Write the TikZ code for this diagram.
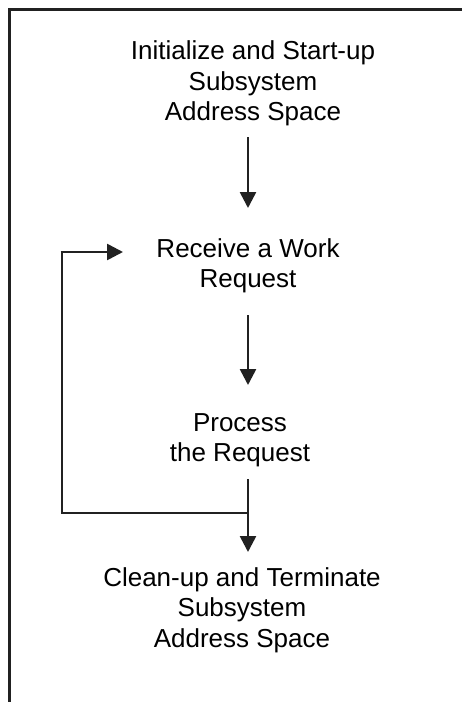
\documentclass[tikz,border=0pt]{standalone}
\usepackage{fontspec}
\setmainfont{Liberation Sans}
\usetikzlibrary{arrows.meta}
\definecolor{ink}{rgb}{0.13,0.13,0.13}
\begin{document}
\begin{tikzpicture}[x=1pt,y=-1pt,
  step text/.style={align=center,inner sep=0pt,anchor=north,text=black,
    font=\fontsize{26}{30.5}\selectfont},
  frame line/.style={draw=ink,line width=3pt},
  flow/.style={draw=ink,line width=2.6pt,
    -{Triangle[width=16pt,length=16pt]}},
  plain/.style={draw=ink,line width=2.6pt}]
  \useasboundingbox (0,0) rectangle (462,702);
  \fill[white] (0,0) rectangle (462,702);

  % open frame: top and left edges only
  \draw[frame line] (9.5,702) -- (9.5,9.5) -- (462,9.5);

  % the vertical spine of the flow
  \coordinate (spine) at (248,0);

  \node[step text] (init) at (253,40.5)
    {Initialize and Start-up\\Subsystem\\Address Space};
  \node[step text] (recv) at (248,238)
    {Receive a Work\\Request};
  \node[step text] (proc) at (240,413)
    {Process\\the Request};
  \node[step text] (term) at (242,567)
    {Clean-up and Terminate\\Subsystem\\Address Space};

  \draw[flow] ([yshift=-11pt]init.south -| spine) -- ([yshift=30pt]recv.north -| spine);
  \draw[flow] ([yshift=-22pt]recv.south -| spine) -- ([yshift=28pt]proc.north -| spine);
  \draw[flow] ([yshift=-12pt]proc.south -| spine) -- ([yshift=15pt]term.north -| spine);

  % loop back from below "Process" to "Receive a Work Request"
  \coordinate (split) at (248,513);
  \coordinate (back) at (62,252);
  \draw[plain] (split) -- (split -| back) -- (back);
  \draw[flow] ([xshift=-1.3pt]back) -- (123,252);
\end{tikzpicture}
\end{document}
